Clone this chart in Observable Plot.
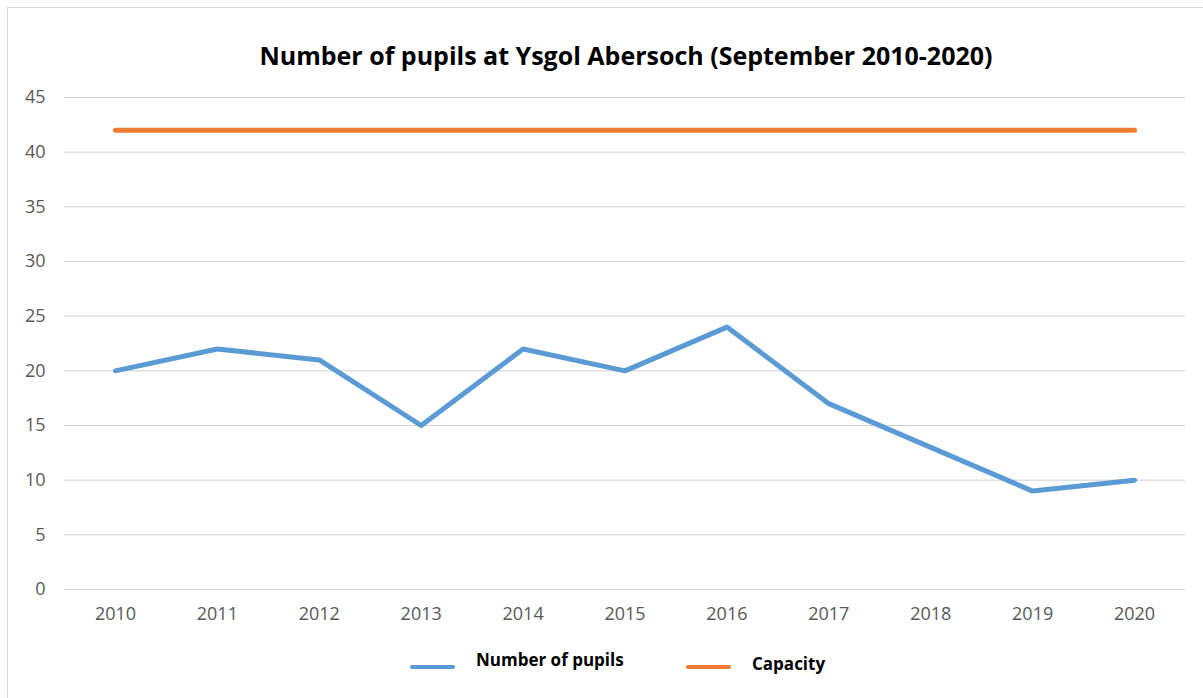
<!DOCTYPE html>
<html>
<head>
<meta charset="utf-8">
<script src="https://cdn.jsdelivr.net/npm/d3@7"></script>
<script src="https://cdn.jsdelivr.net/npm/@observablehq/plot@0.6"></script>
<style>
  html, body { margin: 0; padding: 0; background: #fff; }
  #wrap { position: relative; width: 1203px; height: 698px; overflow: hidden; font-family: "Open Sans", sans-serif; }
  #frame { position: absolute; left: 7px; top: 7px; width: 1300px; height: 800px; border-left: 1px solid #d9d9d9; border-top: 1px solid #d9d9d9; }
  #title { position: absolute; left: 0; width: 1252px; top: 37px; text-align: center; font-weight: 700; font-size: 25px; color: #000; line-height: 36px; }
  #chart { position: absolute; left: 0; top: 80px; }
  .leg { position: absolute; font-weight: 700; font-size: 17px; color: #000; white-space: nowrap; line-height: 22px; }
  .sw { position: absolute; height: 4px; border-radius: 2px; }
</style>
</head>
<body>
<div id="wrap">
  <div id="frame"></div>
  <div id="title">Number of pupils at Ysgol Abersoch (September 2010-2020)</div>
  <div id="chart"></div>
  <div class="sw" style="left:410px; top:665px; width:45px; background:#5b9bd5"></div>
  <div class="leg" style="left:476px; top:649px;">Number of pupils</div>
  <div class="sw" style="left:686px; top:665px; width:45px; background:#ed7d31"></div>
  <div class="leg" style="left:752px; top:653px;">Capacity</div>
</div>
<script>
const years = ["2010","2011","2012","2013","2014","2015","2016","2017","2018","2019","2020"];
const pupils = [20, 22, 21, 15, 22, 20, 24, 17, 13, 9, 10];
const capacity = [42, 42, 42, 42, 42, 42, 42, 42, 42, 42, 42];
const yTicks = [0, 5, 10, 15, 20, 25, 30, 35, 40, 45];

const pupilData = years.map((y, i) => ({year: y, value: pupils[i]}));
const capData = years.map((y, i) => ({year: y, value: capacity[i]}));

const chart = Plot.plot({
  width: 1203,
  height: 560,
  marginTop: 17,
  marginBottom: 51,
  marginLeft: 64,
  marginRight: 18,
  style: { fontFamily: "Open Sans, sans-serif", fontSize: "18px", color: "#595959", background: "transparent" },
  x: { type: "point", domain: years, padding: 0.5, round: false, label: null },
  y: { domain: [0, 45], ticks: yTicks, label: null },
  marks: [
    Plot.ruleY(yTicks, { stroke: "#d0d0d0", strokeWidth: 1 }),
    Plot.axisY({ ticks: yTicks, tickSize: 0, tickPadding: 19, label: null, fill: "#595959" }),
    Plot.axisX({ tickSize: 0, tickPadding: 18, label: null, fill: "#595959" }),
    Plot.line(capData, { x: "year", y: "value", stroke: "#ed7d31", strokeWidth: 5, strokeLinecap: "round" }),
    Plot.line(pupilData, { x: "year", y: "value", stroke: "#5b9bd5", strokeWidth: 5, strokeLinecap: "round", strokeLinejoin: "round" })
  ]
});
document.getElementById("chart").appendChild(chart);
</script>
</body>
</html>
